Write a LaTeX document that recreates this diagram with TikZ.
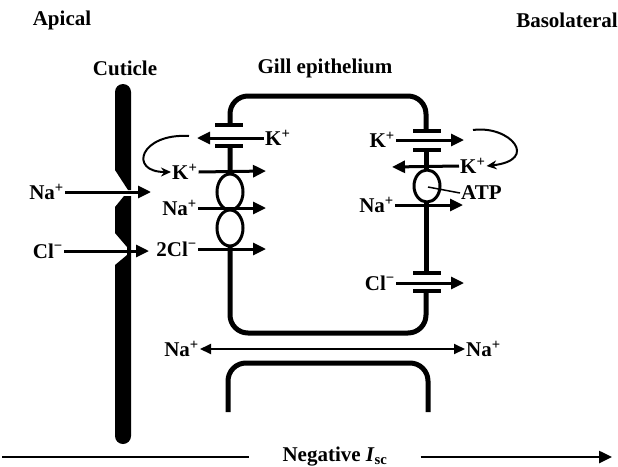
\documentclass[tikz,border=0pt]{standalone}
\usepackage{fontspec}
\setmainfont{Liberation Serif}
\usetikzlibrary{arrows.meta}
\begin{document}
\begin{tikzpicture}[x=1pt,y=-1pt,
  every node/.style={font=\fontsize{21}{25}\selectfont\bfseries, inner sep=1pt},
  mem/.style={line width=5pt},
  plug/.style={line width=4.5pt},
  ion/.style={line width=3pt, -{Triangle[length=13pt,width=12pt]}},
  loopar/.style={line width=2pt, -{Stealth[length=10pt,width=9pt]}},
  para/.style={line width=2pt, {Triangle[length=11pt,width=10pt]}-{Triangle[length=11pt,width=10pt]}},
  pump/.style={line width=3pt, fill=white},
  iscline/.style={line width=2.5pt},
]
\useasboundingbox (0,0) rectangle (618,466);

% titles
\node[anchor=base] (apical) at (62,25) {Apical};
\node[anchor=base] (basol) at (567,27) {Basolateral};
\node[anchor=base] (cut) at (125,75) {Cuticle};
\node[anchor=base] (gill) at (325,73) {Gill epithelium};

% cuticle
\fill (115,170) -- (115,92) to[out=90,in=180] (123,84) to[out=0,in=90] (131,92) -- (131,190) -- (128,190) -- cycle;
\fill (131,196) -- (124,196) -- (115,207) -- (115,233) -- (127,247) -- (127,255) -- (115,265) -- (115,436) to[out=-90,in=180] (123,444) to[out=0,in=-90] (131,436) -- cycle;

% cell membrane
\draw[mem, rounded corners=18pt] (230,125) -- (230,96) -- (426,96) -- (426,131);
\draw[mem, rounded corners=18pt] (230,146) -- (230,333) -- (426,333) -- (426,291);
\draw[mem] (426,150) -- (426,273);
% lower cell
\draw[mem, rounded corners=18pt] (228,412) -- (228,363) -- (428,363) -- (428,412);

% channel plugs
\draw[plug] (215,125) -- (243,125);
\draw[plug] (215,146) -- (243,146);
\draw[plug] (413,131) -- (441,131);
\draw[plug] (413,150) -- (441,150);
\draw[plug] (413,273) -- (441,273);
\draw[plug] (413,291) -- (441,291);

% transporters
\draw[pump] (230,192) ellipse [x radius=13, y radius=18];
\draw[pump] (230,228) ellipse [x radius=13, y radius=18];
\draw[pump] (427,186) ellipse [x radius=13, y radius=16];

% apical inputs
\node[anchor=east] (naA) at (65,192) {Na\textsuperscript{+}};
\coordinate (naAt) at (151,192);
\draw[ion] (naA.east) -- (naAt);
\node[anchor=east] (clA) at (64,251) {Cl\textsuperscript{−}};
\coordinate (clAt) at (149,251);
\draw[ion] (clA.east) -- (clAt);

% apical membrane
\node[anchor=west] (kA1) at (264,138) {K\textsuperscript{+}};
\coordinate (kA1t) at (197,138);
\draw[ion] (kA1.west) -- (kA1t);
\node[anchor=west] (kA2) at (171,172) {K\textsuperscript{+}};
\coordinate (kloopA) at (189,136);
\draw[loopar] (kloopA) .. controls (140,133) and (128,172) .. (kA2.west);
\coordinate (kA2t) at (266,171);
\draw[ion] (kA2.east) -- (kA2t);
\node[anchor=east] (naA2) at (198,208) {Na\textsuperscript{+}};
\coordinate (naA2t) at (266,208);
\draw[ion] (naA2.east) -- (naA2t);
\node[anchor=east] (clA2) at (198,249) {2Cl\textsuperscript{−}};
\coordinate (clA2t) at (266,249);
\draw[ion] (clA2.east) -- (clA2t);

% basolateral membrane
\node[anchor=east] (kB1) at (396,140) {K\textsuperscript{+}};
\coordinate (kB1t) at (464,140);
\draw[ion] (kB1.east) -- (kB1t);
\node[anchor=west] (kB2) at (459,166) {K\textsuperscript{+}};
\coordinate (kloopB) at (473,130);
\draw[loopar] (kloopB) .. controls (510,125) and (540,160) .. (kB2.east);
\coordinate (kB2t) at (392,167);
\draw[ion] (kB2.west) -- (kB2t);
\node[anchor=west] (atp) at (460,193) {ATP};
\coordinate (atpc) at (428,187);
\draw[line width=1.5pt] (atpc) -- (atp.west);
\node[anchor=east] (naB) at (395,205) {Na\textsuperscript{+}};
\coordinate (naBt) at (463,205);
\draw[ion] (naB.east) -- (naBt);
\node[anchor=east] (clB) at (396,283) {Cl\textsuperscript{−}};
\coordinate (clBt) at (464,283);
\draw[ion] (clB.east) -- (clBt);

% paracellular
\node[anchor=east] (naP1) at (200,349) {Na\textsuperscript{+}};
\node[anchor=west] (naP2) at (465,349) {Na\textsuperscript{+}};
\draw[para] (naP1.east) -- (naP2.west);

% negative Isc
\node[anchor=base, inner xsep=33pt] (isc) at (335,461) {Negative \textit{I}\textsubscript{sc}};
\coordinate (iscL) at (2,457);
\coordinate (iscR) at (612,457);
\draw[iscline] (iscL) -- (iscL -| isc.west);
\draw[iscline, -{Triangle[length=13pt,width=12pt]}] (iscR -| isc.east) -- (iscR);
\end{tikzpicture}
\end{document}
